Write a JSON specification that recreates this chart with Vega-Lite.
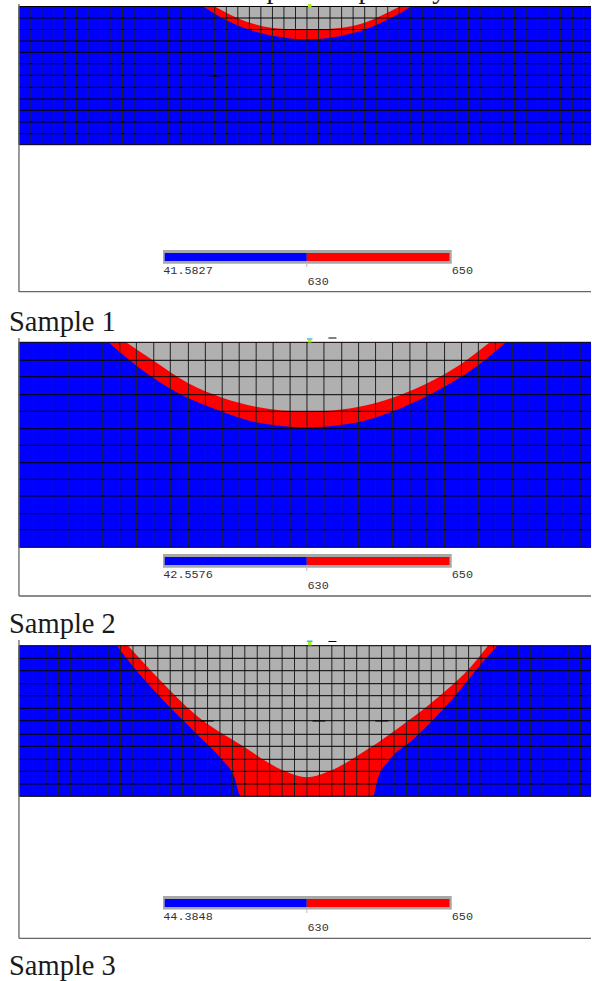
{"$schema":"https://vega.github.io/schema/vega-lite/v6.json","width":592,"height":981,"padding":0,"autosize":{"type":"fit","contains":"padding"},"background":"white","view":{"stroke":null},
"datasets":{
"swatches":[
{"x":19,"x2":592,"y":6.7,"y2":144.7},{"x":19,"x2":592,"y":342.3,"y2":547.3},{"x":19,"x2":592,"y":645.7,"y2":796.3}],
"legend":[{"x":163.3,"x2":452.5,"y":250,"y2":263.7},{"x":163.3,"x2":452.5,"y":554,"y2":567.7},{"x":163.3,"x2":452.5,"y":896,"y2":909.5}],
"legendBlue":[{"x":165,"x2":307.3,"y":253,"y2":261},{"x":165,"x2":307.3,"y":557,"y2":565},{"x":165,"x2":307.3,"y":899,"y2":907}],
"legendRed":[{"x":307.3,"x2":450.3,"y":253,"y2":261},{"x":307.3,"x2":450.3,"y":557,"y2":565},{"x":307.3,"x2":450.3,"y":899,"y2":907}],
"redEdge":[
{"panel":1,"x":203.8,"y":6.7,"top":6.7},{"panel":1,"x":226.4,"y":20,"top":6.7},{"panel":1,"x":252.8,"y":30.7,"top":6.7},{"panel":1,"x":285.7,"y":37.7,"top":6.7},{"panel":1,"x":307.5,"y":39.3,"top":6.7},{"panel":1,"x":330.9,"y":37.7,"top":6.7},{"panel":1,"x":362.3,"y":30.5,"top":6.7},{"panel":1,"x":388.7,"y":19.5,"top":6.7},{"panel":1,"x":411.3,"y":6.7,"top":6.7},
{"panel":2,"x":108.7,"y":342.3,"top":342.3},{"panel":2,"x":135.8,"y":365,"top":342.3},{"panel":2,"x":169.8,"y":388.3,"top":342.3},{"panel":2,"x":222.6,"y":411.7,"top":342.3},{"panel":2,"x":256.6,"y":422.3,"top":342.3},{"panel":2,"x":290.6,"y":426.7,"top":342.3},{"panel":2,"x":307.5,"y":427.5,"top":342.3},{"panel":2,"x":324.5,"y":426.7,"top":342.3},{"panel":2,"x":358.5,"y":422.3,"top":342.3},{"panel":2,"x":392.5,"y":411.7,"top":342.3},{"panel":2,"x":428.3,"y":395.7,"top":342.3},{"panel":2,"x":479.2,"y":365,"top":342.3},{"panel":2,"x":506.8,"y":342.3,"top":342.3},
{"panel":3,"x":117,"y":645.7,"top":645.7},{"panel":3,"x":132.1,"y":665,"top":645.7},{"panel":3,"x":158.5,"y":695,"top":645.7},{"panel":3,"x":196.2,"y":733.3,"top":645.7},{"panel":3,"x":222.6,"y":760,"top":645.7},{"panel":3,"x":234,"y":775,"top":645.7},{"panel":3,"x":241.5,"y":796.3,"top":645.7},{"panel":3,"x":373.6,"y":796.3,"top":645.7},{"panel":3,"x":378.5,"y":778.3,"top":645.7},{"panel":3,"x":388.7,"y":761.7,"top":645.7},{"panel":3,"x":415.1,"y":738.3,"top":645.7},{"panel":3,"x":456.6,"y":695,"top":645.7},{"panel":3,"x":481.1,"y":665,"top":645.7},{"panel":3,"x":498.1,"y":645.7,"top":645.7}],
"grayEdge":[
{"panel":1,"x":215.8,"y":6.7,"top":6.7},{"panel":1,"x":230.2,"y":14.5,"top":6.7},{"panel":1,"x":251,"y":23,"top":6.7},{"panel":1,"x":273.6,"y":28,"top":6.7},{"panel":1,"x":307.5,"y":30,"top":6.7},{"panel":1,"x":339.6,"y":28,"top":6.7},{"panel":1,"x":364.2,"y":23,"top":6.7},{"panel":1,"x":381.1,"y":16,"top":6.7},{"panel":1,"x":400,"y":6.7,"top":6.7},
{"panel":2,"x":126.4,"y":342.3,"top":342.3},{"panel":2,"x":152.8,"y":360,"top":342.3},{"panel":2,"x":188.7,"y":383.3,"top":342.3},{"panel":2,"x":222.6,"y":397.7,"top":342.3},{"panel":2,"x":256.6,"y":406.7,"top":342.3},{"panel":2,"x":290.6,"y":411,"top":342.3},{"panel":2,"x":307.5,"y":411.5,"top":342.3},{"panel":2,"x":324.5,"y":411,"top":342.3},{"panel":2,"x":358.5,"y":407,"top":342.3},{"panel":2,"x":392.5,"y":398,"top":342.3},{"panel":2,"x":426.4,"y":384,"top":342.3},{"panel":2,"x":460.4,"y":365,"top":342.3},{"panel":2,"x":490.6,"y":342.3,"top":342.3},
{"panel":3,"x":128.3,"y":645.7,"top":645.7},{"panel":3,"x":158.5,"y":678.3,"top":645.7},{"panel":3,"x":196.2,"y":715,"top":645.7},{"panel":3,"x":241.5,"y":745,"top":645.7},{"panel":3,"x":286.8,"y":771.7,"top":645.7},{"panel":3,"x":307.5,"y":777.3,"top":645.7},{"panel":3,"x":328.3,"y":771.7,"top":645.7},{"panel":3,"x":369.8,"y":748.3,"top":645.7},{"panel":3,"x":407.5,"y":721.7,"top":645.7},{"panel":3,"x":445.3,"y":691.7,"top":645.7},{"panel":3,"x":471.7,"y":666.7,"top":645.7},{"panel":3,"x":488.7,"y":645.7,"top":645.7}],
"v1":[{"x":19,"y":6.7,"y2":144.7},{"x":31,"y":6.7,"y2":144.7},{"x":41.9,"y":6.7,"y2":144.7},{"x":53.4,"y":6.7,"y2":144.7},{"x":65,"y":6.7,"y2":144.7},{"x":76.5,"y":6.7,"y2":144.7},{"x":88.1,"y":6.7,"y2":144.7},{"x":99.6,"y":6.7,"y2":144.7},{"x":111.2,"y":6.7,"y2":144.7},{"x":122.7,"y":6.7,"y2":144.7},{"x":134.3,"y":6.7,"y2":144.7},{"x":145.8,"y":6.7,"y2":144.7},{"x":157.4,"y":6.7,"y2":144.7},{"x":168.9,"y":6.7,"y2":144.7},{"x":180.5,"y":6.7,"y2":144.7},{"x":192,"y":6.7,"y2":144.7},{"x":203.6,"y":6.7,"y2":144.7},{"x":215.1,"y":6.7,"y2":144.7},{"x":226.7,"y":6.7,"y2":144.7},{"x":238.2,"y":6.7,"y2":144.7},{"x":249.8,"y":6.7,"y2":144.7},{"x":261.3,"y":6.7,"y2":144.7},{"x":272.9,"y":6.7,"y2":144.7},{"x":284.4,"y":6.7,"y2":144.7},{"x":296,"y":6.7,"y2":144.7},{"x":307.5,"y":6.7,"y2":144.7},{"x":319.1,"y":6.7,"y2":144.7},{"x":330.6,"y":6.7,"y2":144.7},{"x":342.2,"y":6.7,"y2":144.7},{"x":353.7,"y":6.7,"y2":144.7},{"x":365.3,"y":6.7,"y2":144.7},{"x":376.8,"y":6.7,"y2":144.7},{"x":388.4,"y":6.7,"y2":144.7},{"x":399.9,"y":6.7,"y2":144.7},{"x":411.5,"y":6.7,"y2":144.7},{"x":423,"y":6.7,"y2":144.7},{"x":434.6,"y":6.7,"y2":144.7},{"x":446.1,"y":6.7,"y2":144.7},{"x":457.7,"y":6.7,"y2":144.7},{"x":469.2,"y":6.7,"y2":144.7},{"x":480.8,"y":6.7,"y2":144.7},{"x":492.3,"y":6.7,"y2":144.7},{"x":503.9,"y":6.7,"y2":144.7},{"x":515.4,"y":6.7,"y2":144.7},{"x":527,"y":6.7,"y2":144.7},{"x":538.5,"y":6.7,"y2":144.7},{"x":550.1,"y":6.7,"y2":144.7},{"x":561.6,"y":6.7,"y2":144.7},{"x":573.2,"y":6.7,"y2":144.7},{"x":584.7,"y":6.7,"y2":144.7}],
"v2":[{"x":19,"y":342.3,"y2":547.3},{"x":33.6,"y":342.3,"y2":547.3},{"x":51.7,"y":342.3,"y2":547.3},{"x":67.9,"y":342.3,"y2":547.3},{"x":85.7,"y":342.3,"y2":547.3},{"x":103,"y":342.3,"y2":547.3},{"x":120,"y":342.3,"y2":547.3},{"x":136.6,"y":342.3,"y2":547.3},{"x":154,"y":342.3,"y2":547.3},{"x":170.6,"y":342.3,"y2":547.3},{"x":188.7,"y":342.3,"y2":547.3},{"x":205.7,"y":342.3,"y2":547.3},{"x":222.6,"y":342.3,"y2":547.3},{"x":239.6,"y":342.3,"y2":547.3},{"x":256.6,"y":342.3,"y2":547.3},{"x":273.6,"y":342.3,"y2":547.3},{"x":290.6,"y":342.3,"y2":547.3},{"x":307.5,"y":342.3,"y2":547.3},{"x":324.5,"y":342.3,"y2":547.3},{"x":342.3,"y":342.3,"y2":547.3},{"x":359.2,"y":342.3,"y2":547.3},{"x":376.2,"y":342.3,"y2":547.3},{"x":393.2,"y":342.3,"y2":547.3},{"x":410.6,"y":342.3,"y2":547.3},{"x":427.5,"y":342.3,"y2":547.3},{"x":445.3,"y":342.3,"y2":547.3},{"x":462.3,"y":342.3,"y2":547.3},{"x":479.2,"y":342.3,"y2":547.3},{"x":496.2,"y":342.3,"y2":547.3},{"x":513.2,"y":342.3,"y2":547.3},{"x":530.2,"y":342.3,"y2":547.3},{"x":547.2,"y":342.3,"y2":547.3},{"x":564.2,"y":342.3,"y2":547.3},{"x":581.1,"y":342.3,"y2":547.3}],
"v3":[{"x":19,"y":645.7,"y2":796.3},{"x":33.6,"y":645.7,"y2":796.3},{"x":46,"y":645.7,"y2":796.3},{"x":58.5,"y":645.7,"y2":796.3},{"x":70.9,"y":645.7,"y2":796.3},{"x":83.4,"y":645.7,"y2":796.3},{"x":95.8,"y":645.7,"y2":796.3},{"x":108.3,"y":645.7,"y2":796.3},{"x":120.7,"y":645.7,"y2":796.3},{"x":133.2,"y":645.7,"y2":796.3},{"x":145.6,"y":645.7,"y2":796.3},{"x":158.1,"y":645.7,"y2":796.3},{"x":170.5,"y":645.7,"y2":796.3},{"x":183,"y":645.7,"y2":796.3},{"x":195.4,"y":645.7,"y2":796.3},{"x":207.9,"y":645.7,"y2":796.3},{"x":220.3,"y":645.7,"y2":796.3},{"x":232.8,"y":645.7,"y2":796.3},{"x":245.2,"y":645.7,"y2":796.3},{"x":257.7,"y":645.7,"y2":796.3},{"x":270.1,"y":645.7,"y2":796.3},{"x":282.6,"y":645.7,"y2":796.3},{"x":295,"y":645.7,"y2":796.3},{"x":307.5,"y":645.7,"y2":796.3},{"x":320,"y":645.7,"y2":796.3},{"x":332.4,"y":645.7,"y2":796.3},{"x":344.9,"y":645.7,"y2":796.3},{"x":357.3,"y":645.7,"y2":796.3},{"x":369.8,"y":645.7,"y2":796.3},{"x":382.2,"y":645.7,"y2":796.3},{"x":394.7,"y":645.7,"y2":796.3},{"x":407.1,"y":645.7,"y2":796.3},{"x":419.6,"y":645.7,"y2":796.3},{"x":432,"y":645.7,"y2":796.3},{"x":444.5,"y":645.7,"y2":796.3},{"x":456.9,"y":645.7,"y2":796.3},{"x":469.4,"y":645.7,"y2":796.3},{"x":481.8,"y":645.7,"y2":796.3},{"x":494.3,"y":645.7,"y2":796.3},{"x":506.7,"y":645.7,"y2":796.3},{"x":519.2,"y":645.7,"y2":796.3},{"x":531.6,"y":645.7,"y2":796.3},{"x":544.1,"y":645.7,"y2":796.3},{"x":556.5,"y":645.7,"y2":796.3},{"x":569,"y":645.7,"y2":796.3},{"x":581.4,"y":645.7,"y2":796.3}],
"h":[{"y":6.5,"x":19,"x2":592},{"y":18,"x":19,"x2":592},{"y":29.5,"x":19,"x2":592},{"y":41,"x":19,"x2":592},{"y":52.3,"x":19,"x2":592},{"y":63.7,"x":19,"x2":592},{"y":75.3,"x":19,"x2":592},{"y":87.3,"x":19,"x2":592},{"y":99,"x":19,"x2":592},{"y":110.3,"x":19,"x2":592},{"y":122,"x":19,"x2":592},{"y":133.7,"x":19,"x2":592},{"y":144.7,"x":19,"x2":592},
{"y":342.3,"x":19,"x2":592},{"y":360.3,"x":19,"x2":592},{"y":376.7,"x":19,"x2":592},{"y":394.7,"x":19,"x2":592},{"y":411.3,"x":19,"x2":592},{"y":428.7,"x":19,"x2":592},{"y":445.3,"x":19,"x2":592},{"y":462.7,"x":19,"x2":592},{"y":479.3,"x":19,"x2":592},{"y":496,"x":19,"x2":592},{"y":513.7,"x":19,"x2":592},{"y":529.7,"x":19,"x2":592},{"y":547.3,"x":19,"x2":592},
{"y":645.7,"x":19,"x2":592},{"y":658.3,"x":19,"x2":592},{"y":670.7,"x":19,"x2":592},{"y":683.7,"x":19,"x2":592},{"y":695.7,"x":19,"x2":592},{"y":708.3,"x":19,"x2":592},{"y":720.7,"x":19,"x2":592},{"y":734.3,"x":19,"x2":592},{"y":746.3,"x":19,"x2":592},{"y":759.3,"x":19,"x2":592},{"y":771.3,"x":19,"x2":592},{"y":784,"x":19,"x2":592},{"y":796.3,"x":19,"x2":592}],
"frameV":[{"x":19,"y":4,"y2":292},{"x":19,"y":338,"y2":596},{"x":19,"y":640,"y2":938.3}],
"frameH":[{"y":291.7,"x":19,"x2":592},{"y":596,"x":19,"x2":592},{"y":938.3,"x":19,"x2":592}],
"legendTicks":[{"x":307.3,"y":263.7,"y2":267},{"x":307.3,"y":567.7,"y2":571},{"x":307.3,"y":909.5,"y2":913}],
"dashes":[{"y":76,"x":209,"x2":221},{"y":721,"x":89,"x2":102},{"y":721,"x":201,"x2":214},{"y":721,"x":313,"x2":326},{"y":721,"x":376,"x2":389},{"y":338,"x":329,"x2":337},{"y":641.5,"x":329,"x2":337}],
"markersGreen":[{"x":308.5,"x2":312,"y":4,"y2":7},{"x":308.5,"x2":312,"y":339.5,"y2":342.5},{"x":308.5,"x2":312,"y":642,"y2":645.5}],
"markersCyan":[{"x":307.5,"x2":313,"y":338.3,"y2":339.6},{"x":307.5,"x2":313,"y":640.5,"y2":642}],
"samples":[{"x":9,"y":331,"t":"Sample 1"},{"x":9,"y":633,"t":"Sample 2"},{"x":9,"y":975,"t":"Sample 3"}],
"cut":[{"x":274,"y":-2,"t":"p"},{"x":366,"y":-2,"t":"p"},{"x":440,"y":-2,"t":"y"}],
"labels":[{"x":163.5,"y":273.5,"t":"41.5827"},{"x":452.5,"y":273.5,"t":"650"},{"x":308,"y":285,"t":"630"},{"x":163.5,"y":578,"t":"42.5576"},{"x":452.5,"y":578,"t":"650"},{"x":308,"y":589,"t":"630"},{"x":163.5,"y":919.5,"t":"44.3848"},{"x":452.5,"y":919.5,"t":"650"},{"x":308,"y":931,"t":"630"}]
},
"encoding":{
"x":{"field":"x","type":"quantitative","scale":{"domain":[0,592],"nice":false,"zero":false},"axis":null},
"y":{"field":"y","type":"quantitative","scale":{"domain":[0,981],"reverse":true,"nice":false,"zero":false},"axis":null}
},
"layer":[
{"data":{"name":"swatches"},"mark":{"type":"rect","color":"#0000ff"},"encoding":{"x2":{"field":"x2"},"y2":{"field":"y2"}}},
{"data":{"name":"redEdge"},"mark":{"type":"area","color":"#ff0000","opacity":1,"interpolate":"monotone"},"encoding":{"y2":{"field":"top"},"detail":{"field":"panel"}}},
{"data":{"name":"grayEdge"},"mark":{"type":"area","color":"#b0b0b0","opacity":1,"interpolate":"monotone"},"encoding":{"y2":{"field":"top"},"detail":{"field":"panel"}}},
{"data":{"name":"v1"},"mark":{"type":"rule","color":"#222222","strokeWidth":1},"encoding":{"y2":{"field":"y2"}}},
{"data":{"name":"v2"},"mark":{"type":"rule","color":"#222222","strokeWidth":1},"encoding":{"y2":{"field":"y2"}}},
{"data":{"name":"v3"},"mark":{"type":"rule","color":"#222222","strokeWidth":1},"encoding":{"y2":{"field":"y2"}}},
{"data":{"name":"h"},"mark":{"type":"rule","color":"#000000","strokeWidth":1},"encoding":{"x2":{"field":"x2"}}},
{"data":{"name":"dashes"},"mark":{"type":"rule","color":"#000000","strokeWidth":1},"encoding":{"x2":{"field":"x2"}}},
{"data":{"name":"frameV"},"mark":{"type":"rule","color":"#666666","strokeWidth":1.3},"encoding":{"y2":{"field":"y2"}}},
{"data":{"name":"frameH"},"mark":{"type":"rule","color":"#666666","strokeWidth":1.3},"encoding":{"x2":{"field":"x2"}}},
{"data":{"name":"legend"},"mark":{"type":"rect","color":"#a8a8a8"},"encoding":{"x2":{"field":"x2"},"y2":{"field":"y2"}}},
{"data":{"name":"legendBlue"},"mark":{"type":"rect","color":"#0000ff"},"encoding":{"x2":{"field":"x2"},"y2":{"field":"y2"}}},
{"data":{"name":"legendRed"},"mark":{"type":"rect","color":"#ff0000"},"encoding":{"x2":{"field":"x2"},"y2":{"field":"y2"}}},
{"data":{"name":"legendTicks"},"mark":{"type":"rule","color":"#bbbbbb","strokeWidth":1},"encoding":{"y2":{"field":"y2"}}},
{"data":{"name":"markersGreen"},"mark":{"type":"rect","color":"#a6f01e"},"encoding":{"x2":{"field":"x2"},"y2":{"field":"y2"}}},
{"data":{"name":"markersCyan"},"mark":{"type":"rect","color":"#35b8e8"},"encoding":{"x2":{"field":"x2"},"y2":{"field":"y2"}}},
{"data":{"name":"samples"},"mark":{"type":"text","font":"Liberation Serif","fontSize":28.5,"align":"left","baseline":"alphabetic","color":"#1a1a1a"},"encoding":{"text":{"field":"t"}}},
{"data":{"name":"cut"},"mark":{"type":"text","clip":true,"font":"Liberation Serif","fontSize":28,"align":"center","baseline":"alphabetic","color":"#1a1a1a"},"encoding":{"text":{"field":"t"}}},
{"data":{"name":"labels"},"mark":{"type":"text","font":"Liberation Mono","fontSize":11.8,"align":"left","baseline":"alphabetic","color":"#333333"},"encoding":{"text":{"field":"t"}}}
]}
